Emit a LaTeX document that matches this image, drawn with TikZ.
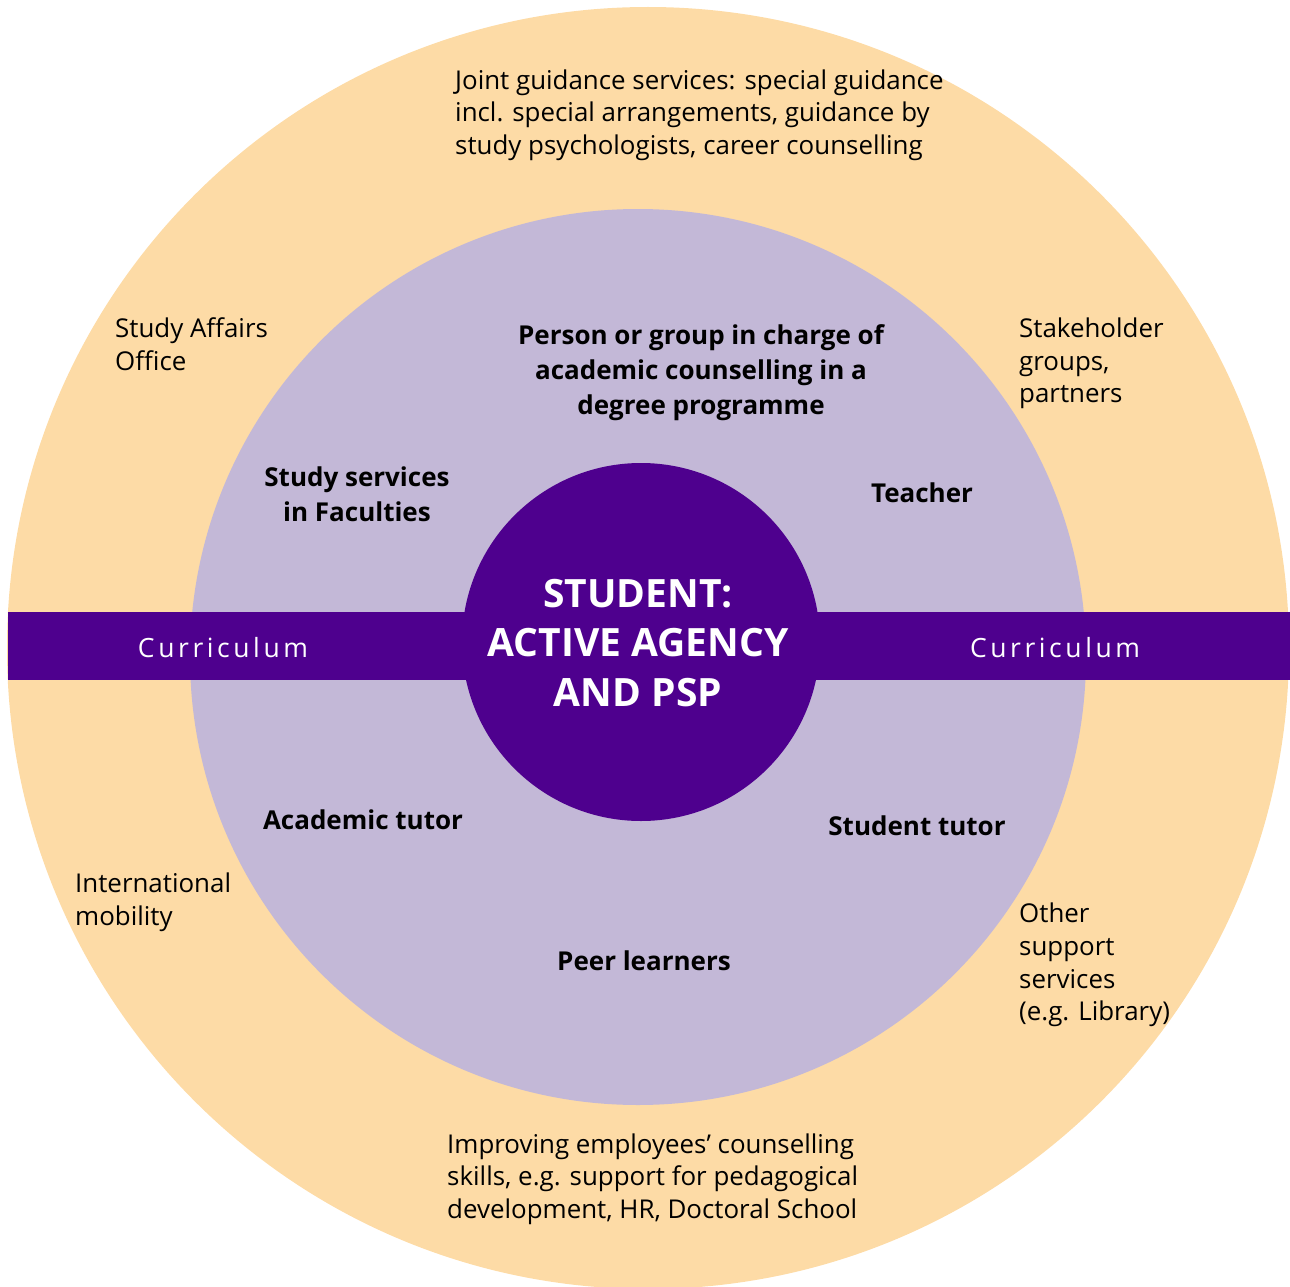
\documentclass[tikz,border=0pt]{standalone}
\usepackage{fontspec}
\setmainfont{Open Sans}
\newfontfamily\spacedfont[LetterSpace=13.5]{Open Sans}
\definecolor{outerc}{HTML}{FDDBA6}
\definecolor{midc}{HTML}{C3B8D7}
\definecolor{darkc}{HTML}{4E008E}
\begin{document}
\begin{tikzpicture}[x=1pt,y=-1pt,
  reg/.style={inner sep=0pt, align=left, font=\fontsize{25.9}{32.7}\selectfont, text=black},
  bld/.style={inner sep=0pt, align=center, font=\fontsize{26}{35.3}\selectfont\bfseries, text=black},
  curr/.style={inner sep=0pt, text=white, font=\fontsize{26.5}{30}\spacedfont},
  ctr/.style={inner sep=0pt, align=center, text=white, font=\fontsize{39}{49.5}\selectfont\bfseries}]
\useasboundingbox (0,0) rectangle (1290,1287);
\fill[outerc] (648,648) circle (641);
\fill[midc] (638,657) circle (448);
\fill[darkc] (8,612) rectangle (1290,680);
\fill[darkc] (641,642) circle (179);
\node[ctr] (student) at (638,643) {STUDENT:\\ACTIVE AGENCY\\AND PSP};
\node[curr] (currL) at (223,648) {Curriculum};
\node[curr] (currR) at (1055,648) {Curriculum};
\node[reg, anchor=west] (joint) at (455,115) {Joint guidance services: special guidance\\incl. special arrangements, guidance by\\study psychologists, career counselling};
\node[reg, anchor=west] (saoff) at (115,344) {Study Affairs\\Office};
\node[reg, anchor=west] (stake) at (1019,363.5) {Stakeholder\\groups,\\partners};
\node[reg, anchor=west] (intl) at (75,902) {International\\mobility};
\node[reg, anchor=west] (other) at (1019,965) {Other\\support\\services\\(e.g. Library)};
\node[reg, anchor=west] (improv) at (447,1179) {Improving employees’ counselling\\skills, e.g. support for pedagogical\\development, HR, Doctoral School};
\node[bld] (person) at (701,372.5) {Person or group in charge of\\academic counselling in a\\degree programme};
\node[bld] (studserv) at (357,494) {Study services\\in Faculties};
\node[bld] (teacher) at (922,493) {Teacher};
\node[bld] (acad) at (363,820) {Academic tutor};
\node[bld] (stut) at (917,826) {Student tutor};
\node[bld] (peer) at (644,961) {Peer learners};
\end{tikzpicture}
\end{document}
